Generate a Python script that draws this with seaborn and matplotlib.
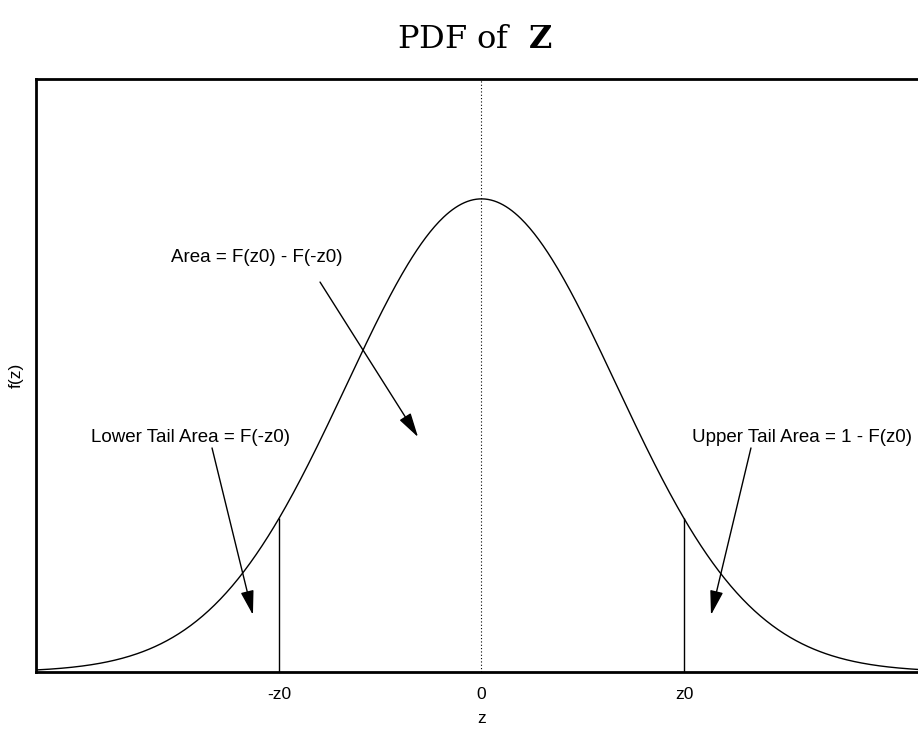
import numpy as np
import pandas as pd
import matplotlib
matplotlib.use("Agg")
import matplotlib.pyplot as plt
import seaborn as sns

# Standard normal density and the cut-off point z0
mu = 0.0
sigma = 1.0
z0 = 1.5
z_range = (-3.3, 3.3)
y_top = 0.5

tick_positions = [-z0, 0.0, z0]
tick_labels = ["-z0", "0", "z0"]

label_area = "Area = F(z0) - F(-z0)"
label_lower = "Lower Tail Area = F(-z0)"
label_upper = "Upper Tail Area = 1 - F(z0)"


def density(z):
    return np.exp(-0.5 * ((z - mu) / sigma) ** 2) / (sigma * np.sqrt(2 * np.pi))


z = np.linspace(z_range[0], z_range[1], 600)
curve = pd.DataFrame({"z": z, "f": density(z)})

sns.set_theme(style="white")
plt.rcParams["font.family"] = ["Liberation Sans", "DejaVu Sans"]
plt.rcParams["mathtext.fontset"] = "dejavuserif"
plt.rcParams["text.color"] = "black"
plt.rcParams["axes.labelcolor"] = "black"
plt.rcParams["xtick.color"] = "black"

fig = plt.figure(figsize=(9.18, 7.29), dpi=100)
ax = fig.add_axes([0.0392, 0.0782, 0.9706, 0.8134])

sns.lineplot(data=curve, x="z", y="f", ax=ax, color="black", lw=1.0)

# cut-off verticals and centre line
h = density(z0)
ax.vlines([-z0, z0], 0, h, color="black", lw=1.0)
ax.axvline(0, color="black", lw=0.8, ls=(0, (1, 2)))

ax.set_xlim(*z_range)
ax.set_ylim(0, y_top)
ax.set_xticks(tick_positions)
ax.set_xticklabels(tick_labels, fontsize=12.5)
ax.set_yticks([])
ax.tick_params(axis="x", direction="in", length=5, width=1, color="black", pad=11)
ax.set_xlabel("z", fontsize=12.5, labelpad=6)
ax.set_ylabel("f(z)", fontsize=12.5, labelpad=9)

for side in ["left", "top", "bottom"]:
    ax.spines[side].set_color("black")
    ax.spines[side].set_linewidth(2.0)
ax.spines["right"].set_visible(False)

ax.set_title("PDF of  $\\mathbf{Z}$", fontsize=23, family="DejaVu Serif",
             color="black", pad=22, x=0.4927)

arrow = dict(arrowstyle="-|>,head_length=1.0,head_width=0.27",
             mutation_scale=15, lw=1.0, color="black", shrinkA=0, shrinkB=0)

ax.text(-1.663, 0.3491, label_area, ha="center", va="center", fontsize=13.5)
ax.annotate("", xy=(-0.470, 0.1981), xytext=(-1.196, 0.3288), arrowprops=arrow)

ax.text(-2.152, 0.1981, label_lower, ha="center", va="center", fontsize=13.5)
ax.annotate("", xy=(-1.693, 0.0481), xytext=(-1.996, 0.1889), arrowprops=arrow)

ax.text(2.374, 0.1981, label_upper, ha="center", va="center", fontsize=13.5)
ax.annotate("", xy=(1.700, 0.0481), xytext=(1.996, 0.1889), arrowprops=arrow)

fig.savefig("out.png", dpi=100)
